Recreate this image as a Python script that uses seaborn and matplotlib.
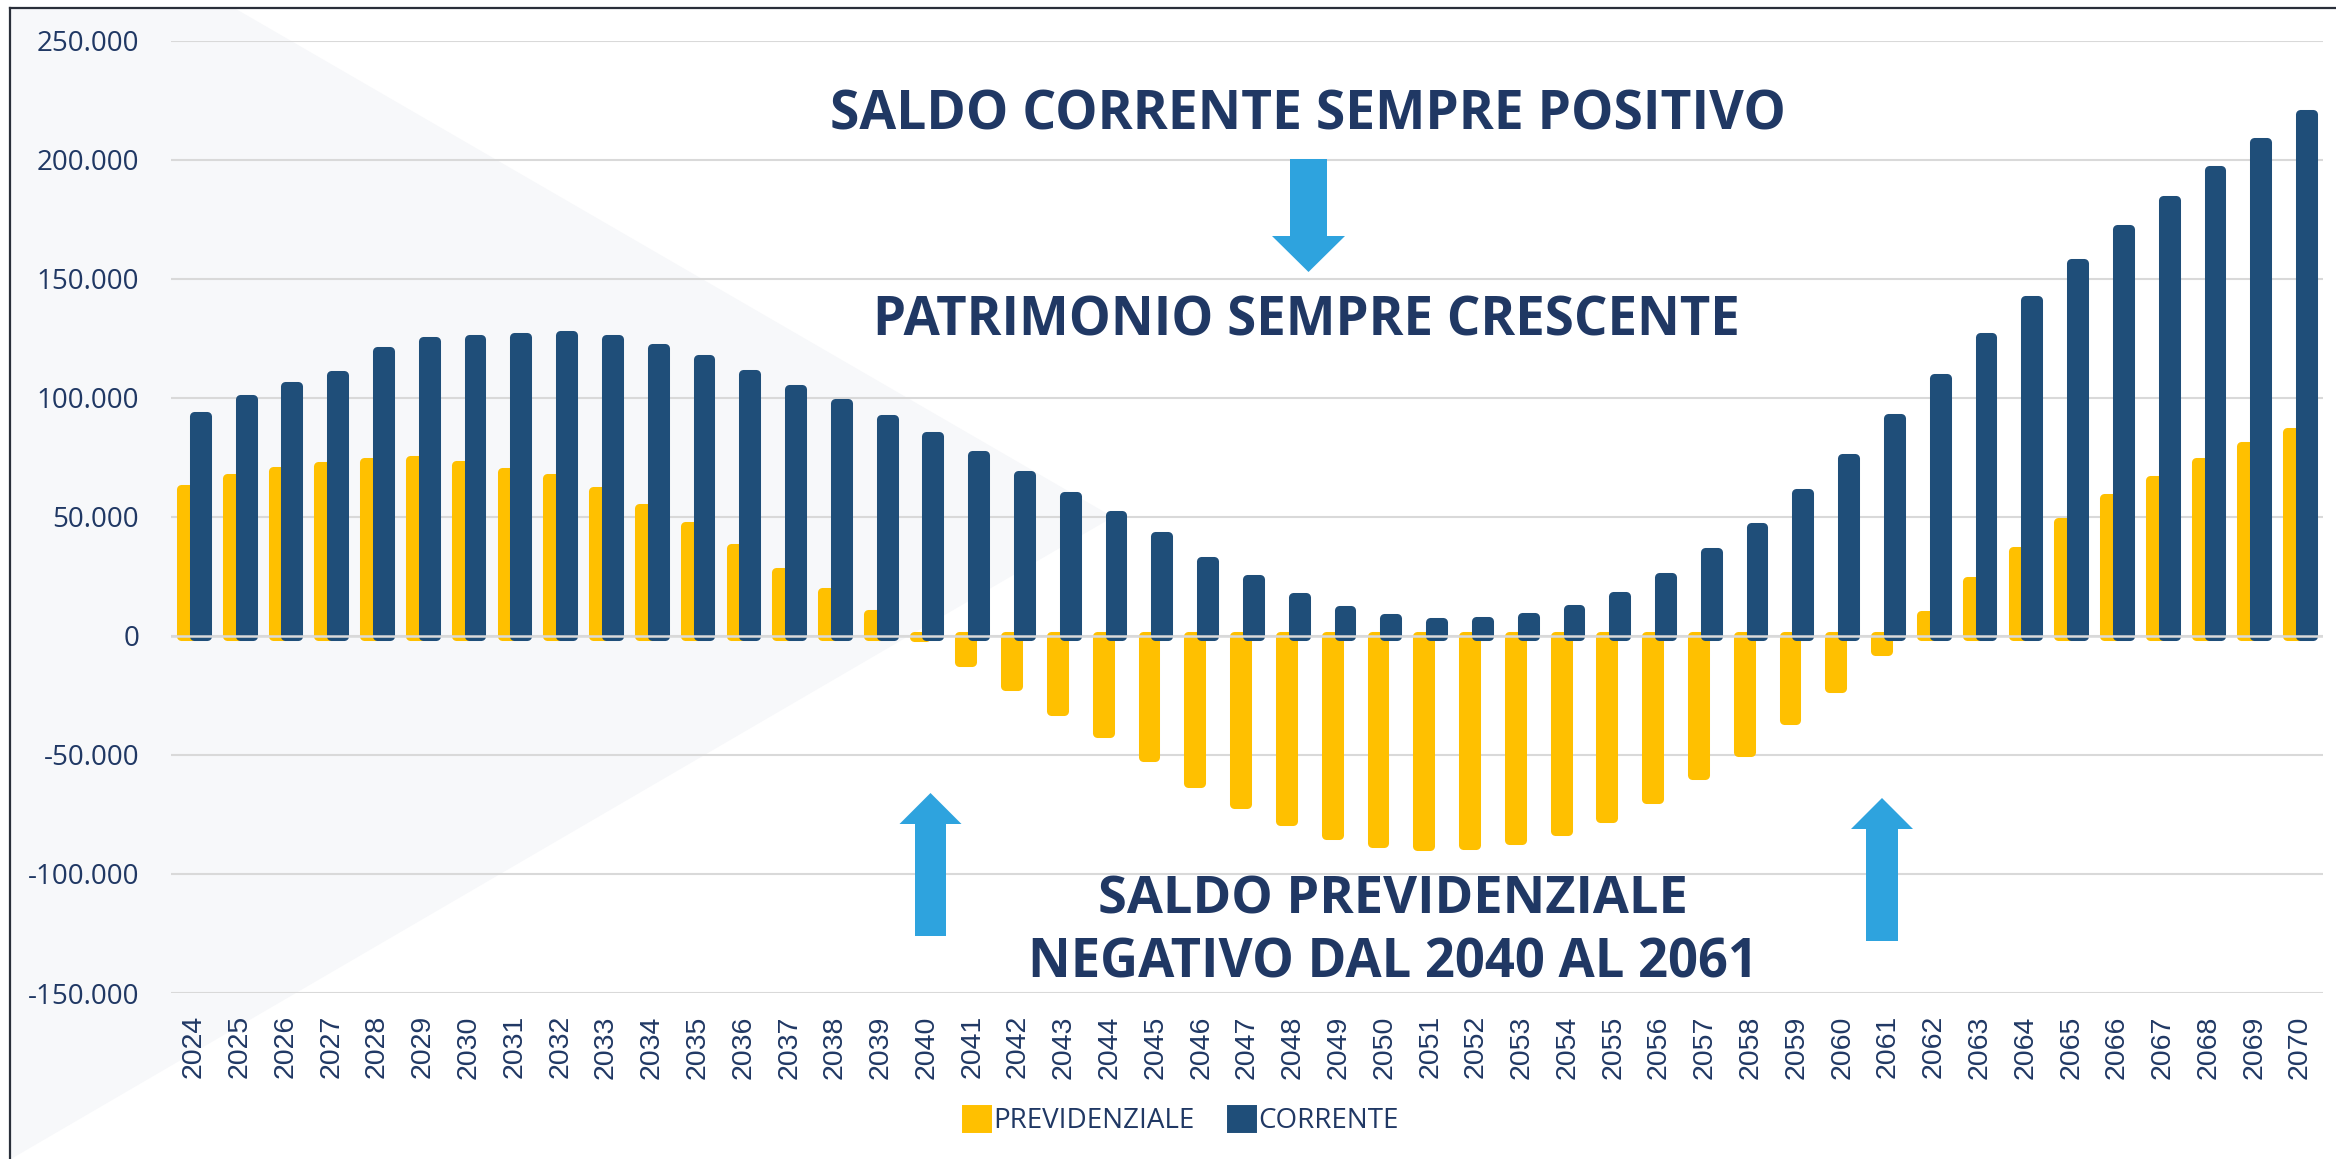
import numpy as np
import pandas as pd
import matplotlib
matplotlib.use('Agg')
import matplotlib.pyplot as plt
from matplotlib.patches import Polygon, Patch
from matplotlib.lines import Line2D
import seaborn as sns

anni = [str(a) for a in range(2024, 2071)]

previdenziale = [61.6, 66.3, 69.3, 71.2, 72.9, 74.0, 71.6, 69.0, 66.3, 60.7,
                 53.5, 46.0, 36.8, 27.0, 18.4, 9.2, -0.3, -10.9, -21.0, -31.5,
                 -40.7, -51.0, -61.9, -70.6, -77.9, -83.6, -86.8, -88.1, -87.7, -85.7,
                 -82.0, -76.3, -68.6, -58.3, -48.6, -35.4, -21.7, -6.5, 8.8, 23.1,
                 35.5, 47.7, 57.7, 65.6, 72.9, 79.7, 85.7]

corrente = [92.3, 99.4, 105.1, 109.4, 119.7, 124.0, 124.8, 125.7, 126.5, 124.6,
            120.7, 116.3, 110.1, 103.6, 97.9, 91.1, 84.0, 75.9, 67.5, 58.6,
            50.9, 41.9, 31.6, 23.7, 16.5, 10.9, 7.5, 6.0, 6.4, 8.1,
            11.4, 16.9, 24.8, 35.1, 45.7, 59.9, 74.8, 91.3, 108.4, 125.6,
            141.2, 156.6, 170.7, 183.1, 195.5, 207.3, 219.2]

serie = ['PREVIDENZIALE', 'CORRENTE']
colori = ['#FFC000', '#1F4E79']
y_ticks = [-150000, -100000, -50000, 0, 50000, 100000, 150000, 200000, 250000]

NAVY = '#203864'
ARROW = '#2EA3DE'

df = pd.DataFrame({
    'anno': anni * 2,
    'valore': [v * 1000 for v in previdenziale] + [v * 1000 for v in corrente],
    'serie': [serie[0]] * len(anni) + [serie[1]] * len(anni),
})

W, H = 2336, 1159
fig = plt.figure(figsize=(W / 100, H / 100), dpi=100)
fig.patch.set_facecolor('white')


def fx(px):
    return px / W


def fy(py):
    return 1 - py / H


# light background wedge on the left
fig.add_artist(Polygon([(fx(11), fy(9)), (fx(236), fy(9)), (fx(1113), fy(517)), (fx(11), fy(1159))],
                       closed=True, transform=fig.transFigure, facecolor='#F7F8FA',
                       edgecolor='none', zorder=-2))
# frame lines (top and left)
fig.add_artist(Line2D([fx(10), fx(10)], [fy(8), 0], transform=fig.transFigure,
                      color='#2A2F3A', lw=1.6, zorder=-1))
fig.add_artist(Line2D([fx(10), 1], [fy(8), fy(8)], transform=fig.transFigure,
                      color='#2A2F3A', lw=1.6, zorder=-1))

ax = fig.add_axes([fx(171), fy(993), fx(2323) - fx(171), fy(40.6) - fy(993)])
ax.set_facecolor('none')

sns.barplot(data=df, x='anno', y='valore', hue='serie', palette=colori,
            hue_order=serie, width=0.56, saturation=1, legend=False, ax=ax)

for p in ax.patches:
    p.set_edgecolor(p.get_facecolor())
    p.set_linewidth(6.5)
    p.set_joinstyle('round')

ax.set_xlim(-0.5, len(anni) - 0.5)
ax.set_ylim(-150000, 250000)
ax.set_yticks(y_ticks)
ax.set_yticklabels([f'{v:,.0f}'.replace(',', '.') for v in y_ticks],
                   fontsize=20, color=NAVY, family='Open Sans')
ax.set_xticks(range(len(anni)))
ax.set_xticklabels(anni, rotation=90, fontsize=20.5, color=NAVY, family='Liberation Sans')
ax.tick_params(axis='y', length=0, pad=23)
ax.tick_params(axis='x', length=0, pad=16)
ax.set_xlabel('')
ax.set_ylabel('')
ax.set_axisbelow(True)
ax.grid(axis='y', color='#D9D9D9', lw=1.5)
ax.grid(axis='x', visible=False)
ax.axhline(0, color='#D9D9D9', lw=1.8, zorder=5)
sns.despine(ax=ax, left=True, bottom=True)

# annotations
txt = dict(color=NAVY, fontweight='bold', family='Open Sans', ha='center', va='baseline')
fig.text(fx(1308), fy(129), 'SALDO CORRENTE SEMPRE POSITIVO', fontsize=38.4, **txt)
fig.text(fx(1306), fy(335), 'PATRIMONIO SEMPRE CRESCENTE', fontsize=38, **txt)
fig.text(fx(1393), fy(914), 'SALDO PREVIDENZIALE', fontsize=37.6, **txt)
fig.text(fx(1393), fy(978), 'NEGATIVO DAL 2040 AL 2061', fontsize=37.8, **txt)


def freccia(cx, shaft_w, head_w, y_tail, y_base, y_tip):
    pts = [(cx - shaft_w / 2, y_tail), (cx + shaft_w / 2, y_tail),
           (cx + shaft_w / 2, y_base), (cx + head_w / 2, y_base),
           (cx, y_tip), (cx - head_w / 2, y_base), (cx - shaft_w / 2, y_base)]
    fig.add_artist(Polygon([(fx(x), fy(y)) for x, y in pts], closed=True,
                           transform=fig.transFigure, facecolor=ARROW,
                           edgecolor='none', zorder=6))


freccia(1308.5, 37, 73, 159, 236, 272)
freccia(930.5, 31, 62, 936, 824, 793)
freccia(1882, 32, 62, 941, 829, 798)

handles = [Patch(facecolor=c, edgecolor=c, linewidth=5, joinstyle='round') for c in colori]
fig.legend(handles, serie, loc='center', bbox_to_anchor=(fx(1182), fy(1121)), ncol=2,
           frameon=False, handlelength=0.8, handleheight=0.8, handletextpad=0.2,
           columnspacing=1.3, prop={'family': 'Open Sans', 'size': 20},
           labelcolor=NAVY)

fig.savefig('out.png', dpi=100)
